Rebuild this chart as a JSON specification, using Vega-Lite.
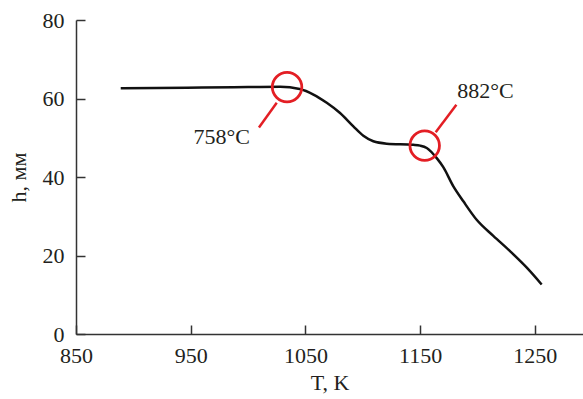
{
  "$schema": "https://vega.github.io/schema/vega-lite/v6.json",
  "autosize": "none",
  "width": 507,
  "height": 314,
  "padding": {"left": 76, "top": 20, "right": 0, "bottom": 65},
  "background": "white",
  "config": {
    "view": {"stroke": null},
    "axis": {
      "grid": false,
      "domainColor": "#333333",
      "domainWidth": 1.5,
      "tickColor": "#333333",
      "tickWidth": 1.5,
      "tickSize": -9,
      "labelFont": "Times New Roman, Liberation Serif, serif",
      "labelFontSize": 22,
      "labelColor": "#231f20",
      "titleFont": "Times New Roman, Liberation Serif, serif",
      "titleFontSize": 22,
      "titleFontWeight": "normal",
      "titleColor": "#231f20"
    }
  },
  "datasets": {
    "curve": [
      {"T": 889, "h": 62.6},
      {"T": 920, "h": 62.7},
      {"T": 960, "h": 62.8},
      {"T": 1000, "h": 62.9},
      {"T": 1028, "h": 63.0},
      {"T": 1045, "h": 62.4},
      {"T": 1057, "h": 61.0},
      {"T": 1068.6, "h": 58.9},
      {"T": 1080.2, "h": 56.3},
      {"T": 1091.8, "h": 52.9},
      {"T": 1100.5, "h": 50.5},
      {"T": 1109.2, "h": 49.1},
      {"T": 1120.9, "h": 48.5},
      {"T": 1144.1, "h": 48.2},
      {"T": 1150, "h": 48.0},
      {"T": 1155.8, "h": 47.4},
      {"T": 1164.5, "h": 44.8},
      {"T": 1170.2, "h": 42.5},
      {"T": 1179, "h": 37.6},
      {"T": 1187.7, "h": 33.8},
      {"T": 1199.3, "h": 29.1},
      {"T": 1213.8, "h": 25.0},
      {"T": 1228.4, "h": 21.1},
      {"T": 1243, "h": 16.9},
      {"T": 1256, "h": 12.6}
    ],
    "marks": [
      {"T": 1034, "h": 62.9, "T2": 1025, "h2": 58.9, "T3": 1009.5, "h3": 52.6, "label": "758°C", "TL": 977, "hL": 50.1},
      {"T": 1154, "h": 48.0, "T2": 1163.6, "h2": 51.4, "T3": 1181.6, "h3": 58.4, "label": "882°C", "TL": 1207, "hL": 61.8}
    ]
  },
  "layer": [
    {
      "data": {"name": "curve"},
      "mark": {"type": "line", "color": "#111111", "strokeWidth": 2.5, "interpolate": "monotone"},
      "encoding": {
        "x": {
          "field": "T", "type": "quantitative",
          "scale": {"domain": [850, 1292], "nice": false, "zero": false},
          "axis": {"values": [850, 950, 1050, 1150, 1250], "format": "d", "title": "T, K", "labelPadding": 20, "titlePadding": 6, "labelFlush": false}
        },
        "y": {
          "field": "h", "type": "quantitative",
          "scale": {"domain": [0, 80], "nice": false},
          "axis": {"values": [0, 20, 40, 60, 80], "format": "d", "title": "h, мм", "labelPadding": 21, "titlePadding": 12, "labelFlush": false}
        }
      }
    },
    {
      "data": {"name": "marks"},
      "mark": {"type": "rule", "color": "#e31e24", "strokeWidth": 2.5},
      "encoding": {
        "x": {"field": "T2", "type": "quantitative"},
        "y": {"field": "h2", "type": "quantitative"},
        "x2": {"field": "T3"},
        "y2": {"field": "h3"}
      }
    },
    {
      "data": {"name": "marks"},
      "mark": {"type": "point", "shape": "circle", "filled": false, "size": 870, "stroke": "#e31e24", "strokeWidth": 2.8, "opacity": 1},
      "encoding": {
        "x": {"field": "T", "type": "quantitative"},
        "y": {"field": "h", "type": "quantitative"}
      }
    },
    {
      "data": {"name": "marks"},
      "mark": {"type": "text", "font": "Times New Roman, Liberation Serif, serif", "fontSize": 22, "color": "#231f20", "align": "center", "baseline": "middle"},
      "encoding": {
        "x": {"field": "TL", "type": "quantitative"},
        "y": {"field": "hL", "type": "quantitative"},
        "text": {"field": "label"}
      }
    }
  ]
}
